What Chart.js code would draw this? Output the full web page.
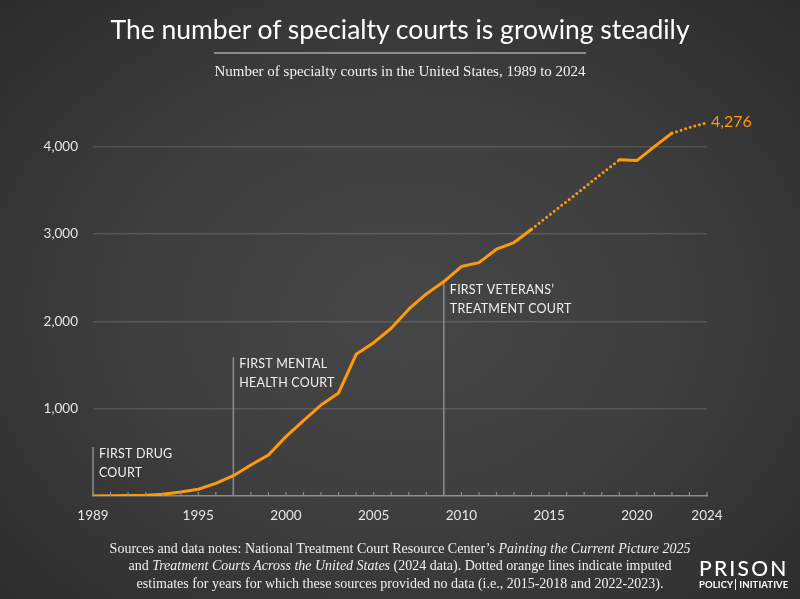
<!DOCTYPE html>
<html>
<head>
<meta charset="utf-8">
<script src="https://cdn.jsdelivr.net/npm/chart.js"></script>
<style>
  html, body { margin: 0; padding: 0; }
  body {
    width: 800px; height: 599px; overflow: hidden;
    background: radial-gradient(ellipse at 50% 52%, #464646 0%, #3f3f3f 45%, #2c2c2c 100%);
  }
  #wrap { position: relative; width: 800px; height: 599px; }
  #chart { position: absolute; left: 0; top: 0; }
  .title {
    position: absolute; left: 0; width: 800px; top: 12px; text-align: center;
    font-family: Lato, sans-serif; font-size: 26.5px; line-height: 34px; color: #fff;
  }
  .rule { position: absolute; left: 214px; top: 52px; width: 372px; height: 1.5px; background: #8a8a8a; }
  .subtitle {
    position: absolute; left: 0; width: 800px; top: 62px; text-align: center;
    font-family: "Liberation Serif", serif; font-size: 15px; line-height: 18px; color: #f2f2f2;
  }
  .notes {
    position: absolute; left: 0; width: 800px; top: 540px; text-align: center;
    font-family: "Liberation Serif", serif; font-size: 14px; line-height: 17.3px; color: #f0f0f0;
  }
  .logo { position: absolute; left: 699px; top: 557px; color: #fff; font-family: Lato, sans-serif; }
  .logo .big { font-size: 21px; line-height: 22px; letter-spacing: 2.2px; font-weight: 500; }
  .logo .small { font-size: 9.5px; line-height: 11px; font-weight: 700; letter-spacing: 0.1px; }
  .logo .small span { border-left: 1px solid #fff; padding-left: 3px; margin-left: 2px; }
</style>
</head>
<body>
<div id="wrap">
  <canvas id="chart" width="800" height="599"></canvas>
  <div class="title">The number of specialty courts is growing steadily</div>
  <div class="rule"></div>
  <div class="subtitle">Number of specialty courts in the United States, 1989 to 2024</div>
  <div class="notes">
    Sources and data notes: National Treatment Court Resource Center’s <i>Painting the Current Picture 2025</i><br>
    and <i>Treatment Courts Across the United States</i> (2024 data). Dotted orange lines indicate imputed<br>
    estimates for years for which these sources provided no data (i.e., 2015-2018 and 2022-2023).
  </div>
  <div class="logo">
    <div class="big">PRISON</div>
    <div class="small">POLICY<span>INITIATIVE</span></div>
  </div>
</div>
<script>
// Datos
const years = [1989, 1990, 1991, 1992, 1993, 1994, 1995, 1996, 1997, 1998, 1999,
               2000, 2001, 2002, 2003, 2004, 2005, 2006, 2007, 2008, 2009,
               2010, 2011, 2012, 2013, 2014, 2015, 2016, 2017, 2018, 2019,
               2020, 2021, 2022, 2023, 2024];
const courts = [1, 3, 5, 10, 20, 45, 77, 145, 232, 355, 470,
                680, 862, 1042, 1180, 1623, 1756, 1921, 2139, 2314, 2455,
                2627, 2672, 2826, 2902, 3055, 3214, 3373, 3532, 3691, 3849,
                3841, 4001, 4155, 4220, 4276];
// años estimados (línea punteada)
const imputedYears = [2015, 2016, 2017, 2018, 2023];
const xTickYears = [1989, 1995, 2000, 2005, 2010, 2015, 2020, 2024];
const yTickValues = [1000, 2000, 3000, 4000];
const milestoneYears = [1989, 1997, 2009];
const milestoneTops = [560, 1590, 2440];
const milestoneLabels = [['FIRST DRUG', 'COURT'], ['FIRST MENTAL', 'HEALTH COURT'], ['FIRST VETERANS’', 'TREATMENT COURT']];

const ORANGE = '#ff9a0a';
const AXIS_GRAY = '#8c8c8c';
const FONT = 'Lato, sans-serif';

const points = years.map((y, i) => ({ x: y, y: courts[i] }));
const isImputed = (idx) => imputedYears.includes(years[idx]);

// Líneas verticales, etiquetas y marcas menores del eje
const annotations = {
    id: 'annotations',
    beforeDatasetsDraw(chart) {
        const { ctx, scales: { x, y } } = chart;
        ctx.save();
        milestoneYears.forEach((yr, i) => {
            const px = x.getPixelForValue(yr);
            const top = y.getPixelForValue(milestoneTops[i]);
            ctx.strokeStyle = AXIS_GRAY;
            ctx.lineWidth = 1.5;
            ctx.beginPath();
            ctx.moveTo(px, top);
            ctx.lineTo(px, y.getPixelForValue(0));
            ctx.stroke();
            ctx.fillStyle = '#f0f0f0';
            ctx.font = '12.5px ' + FONT;
            if ('letterSpacing' in ctx) ctx.letterSpacing = '0.2px';
            ctx.textBaseline = 'top';
            milestoneLabels[i].forEach((line, j) => {
                ctx.fillText(line, px + 6, top + 1 + j * 18.5);
            });
        });
        ctx.restore();
    },
    afterDraw(chart) {
        const { ctx, scales: { x, y } } = chart;
        const base = y.getPixelForValue(0);
        ctx.save();
        ctx.strokeStyle = AXIS_GRAY;
        ctx.lineWidth = 1.2;
        years.forEach(yr => {
            const px = x.getPixelForValue(yr);
            ctx.beginPath();
            ctx.moveTo(px, base);
            ctx.lineTo(px, base - 4);
            ctx.stroke();
        });
        // etiqueta del último valor
        const last = points.length - 1;
        ctx.fillStyle = ORANGE;
        ctx.font = '16px ' + FONT;
        ctx.textBaseline = 'middle';
        ctx.fillText(courts[last].toLocaleString('en-US'),
            x.getPixelForValue(years[last]) + 4, y.getPixelForValue(courts[last]) - 1);
        ctx.restore();
    }
};

new Chart(document.getElementById('chart'), {
    type: 'line',
    data: {
        datasets: [{
            data: points,
            borderColor: ORANGE,
            borderWidth: 3,
            borderCapStyle: 'round',
            borderJoinStyle: 'round',
            pointRadius: 0,
            tension: 0,
            segment: {
                borderDash: ctx => (isImputed(ctx.p0DataIndex) || isImputed(ctx.p1DataIndex)) ? [0, 4.8] : undefined
            }
        }]
    },
    options: {
        responsive: false,
        animation: false,
        layout: { padding: { left: 0, right: 93, top: 103, bottom: 73 } },
        plugins: { legend: { display: false }, tooltip: { enabled: false } },
        scales: {
            x: {
                type: 'linear',
                min: 1989,
                max: 2024,
                afterBuildTicks: scale => { scale.ticks = xTickYears.map(v => ({ value: v })); },
                afterFit: scale => { scale.height = 30; },
                grid: { display: false, drawTicks: false },
                border: { display: true, color: AXIS_GRAY, width: 1.5 },
                ticks: {
                    color: '#e6e6e6',
                    font: { family: FONT, size: 13.5 },
                    padding: 12,
                    maxRotation: 0,
                    autoSkip: false,
                    callback: v => String(v)
                }
            },
            y: {
                min: 0,
                max: 4500,
                afterBuildTicks: scale => { scale.ticks = yTickValues.map(v => ({ value: v })); },
                afterFit: scale => { scale.width = 93; },
                grid: { color: 'rgba(255,255,255,0.13)', lineWidth: 1.5, drawTicks: false },
                border: { display: false },
                ticks: {
                    color: '#e6e6e6',
                    font: { family: FONT, size: 13.5 },
                    padding: 15,
                    callback: v => v.toLocaleString('en-US')
                }
            }
        }
    },
    plugins: [annotations]
});
</script>
</body>
</html>
